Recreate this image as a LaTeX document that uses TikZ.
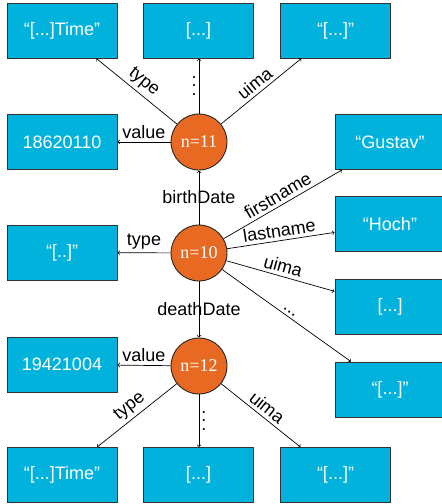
\documentclass[tikz,border=0pt]{standalone}
\usepackage{fontspec}
\setmainfont{Liberation Sans}
\newfontfamily\nodefont{Liberation Serif}
\definecolor{boxblue}{RGB}{0,178,220}
\definecolor{nodeorange}{RGB}{232,106,34}
\begin{document}
\begin{tikzpicture}[x=1pt,y=1pt]
	\tikzstyle{every node}+=[font=\fontsize{18}{20}\selectfont]
	\tikzstyle{val}=[draw=black!80,fill=boxblue,text=white,line width=0.9pt,minimum width=110pt,minimum height=55pt,inner sep=0pt]
	\tikzstyle{res}=[circle,draw=black!85,fill=nodeorange,text=white,line width=0.9pt,minimum size=56pt,inner sep=0pt,font=\nodefont\fontsize{18}{20}\selectfont]
	\tikzstyle{rel}=[->,line width=0.7pt]
	\tikzstyle{more}=[align=center,inner sep=2pt,font=\fontsize{18}{8.5}\selectfont]
	\useasboundingbox (0,0) rectangle (442,-504);
	% resources
	\node [res] (n11) at (199,-142) {n=11};
	\node [res] (n10) at (199,-253) {n=10};
	\node [res] (n12) at (199,-366) {n=12};
	% values around n=11
	\node [val] (b11t) at (62,-30.5) {“[...]Time”};
	\node [val] (b11d) at (198.5,-30.5) {[...]};
	\node [val] (b11u) at (335.5,-30.5) {“[...]”};
	\node [val] (b11v) at (62,-142) {18620110};
	% values around n=10
	\node [val] (b10f) at (390,-142) {“Gustav”};
	\node [val] (b10l) at (390,-224) {“Hoch”};
	\node [val] (b10t) at (62,-252.5) {“[..]”};
	\node [val] (b10u) at (390,-307) {[...]};
	\node [val] (b10d) at (390,-389.5) {“[...]”};
	% values around n=12
	\node [val] (b12v) at (62,-364.5) {19421004};
	\node [val] (b12t) at (62,-475) {“[...]Time”};
	\node [val] (b12d) at (198.5,-475) {[...]};
	\node [val] (b12u) at (335.5,-475) {“[...]”};
	% edges of n=11
	\draw [rel,<-] (b11t) -- node [sloped,above] {type} (n11);
	\draw [rel] (n11) -- node [more,left] {.\\.\\.} (n11|-b11d.south);
	\draw [rel] (n11) -- node [sloped,above] {uima} (b11u);
	\draw [rel] (n11) -- node [above] {value} (b11v);
	% edges of n=10
	\draw [rel] (n10) -- node {birthDate} (n11);
	\draw [rel] (n10) -- node [sloped,above] {firstname} (b10f);
	\draw [rel] (n10) -- node [sloped,above] {lastname} (b10l);
	\draw [rel] (n10) -- node [above] {type} (b10t);
	\draw [rel] (n10) -- node [sloped,above] {uima} (b10u);
	\draw [rel] (n10) -- node [sloped,above] {...} (b10d);
	\draw [rel] (n10) -- node {deathDate} (n12);
	% edges of n=12
	\draw [rel] (n12) -- node [above] {value} (b12v);
	\draw [rel,<-] (b12t) -- node [sloped,above] {type} (n12);
	\draw [rel] (n12) -- node [more,right] {.\\.\\.} (n12|-b12d.north);
	\draw [rel] (n12) -- node [sloped,above] {uima} (b12u);
\end{tikzpicture}
\end{document}
